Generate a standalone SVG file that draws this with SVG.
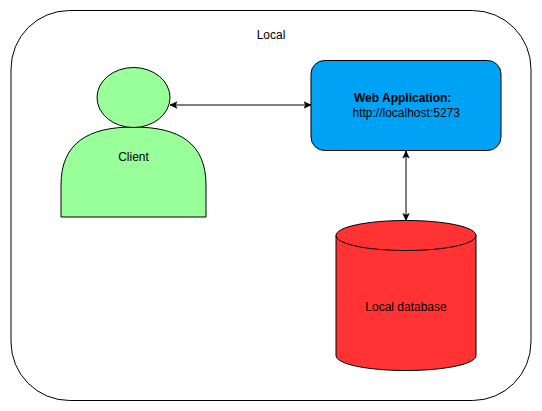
<svg xmlns="http://www.w3.org/2000/svg" width="542" height="411" viewBox="0 0 542 411">
<defs>
<style>
.s{stroke:#000;stroke-width:1}
text{font-family:"Liberation Sans",Arial,sans-serif;font-size:12px;fill:#000}
.c{text-anchor:middle}
.conn{fill:none;stroke:#000;stroke-width:1}
</style>
<marker id="arrow" viewBox="0 0 8 8" refX="7.5" refY="4" markerWidth="8" markerHeight="8" markerUnits="userSpaceOnUse" orient="auto-start-reverse">
<path d="M0.5 0.8L7.5 4L0.5 7.2L2.2 4Z" fill="#000" stroke="#000" stroke-width="0.6"/>
</marker>
</defs>
<rect width="542" height="411" fill="#fff"/>
<g id="local">
<rect class="s" x="11" y="10.5" width="520" height="390" rx="58.5" ry="58.5" fill="#fff"/>
<text class="c" x="271" y="39">Local</text>
</g>
<g id="connectors">
<path class="conn" d="M170 105H311" marker-start="url(#arrow)" marker-end="url(#arrow)"/>
<path class="conn" d="M406 151V220.5" marker-start="url(#arrow)" marker-end="url(#arrow)"/>
</g>
<g id="client">
<path class="s" d="M61 217V185C61 143 88 127 133.5 127C179 127 206 143 206 185V217Z" fill="#99ff99"/>
<ellipse class="s" cx="133.5" cy="97.500" rx="36.500" ry="30" fill="#99ff99"/>
<text class="c" x="133.5" y="161">Client</text>
</g>
<g id="web-application">
<rect class="s" x="311" y="60.500" width="190" height="90" rx="13.500" ry="13.500" fill="#00a2f5"/>
<text x="354" y="102" style="font-weight:bold">Web Application:</text>
<text x="352.500" y="117">http://localhost:5273</text>
</g>
<g id="local-database">
<path class="s" d="M336 235.500C336 227 367 220.500 406 220.500C445 220.500 476 227 476 235.500V355.500C476 364 445 370.500 406 370.500C367 370.500 336 364 336 355.500Z" fill="#ff3333"/>
<path class="s" d="M336 235.500C336 244 367 250.500 406 250.500C445 250.500 476 244 476 235.500" fill="none"/>
<text class="c" x="406" y="311">Local database</text>
</g>
</svg>
